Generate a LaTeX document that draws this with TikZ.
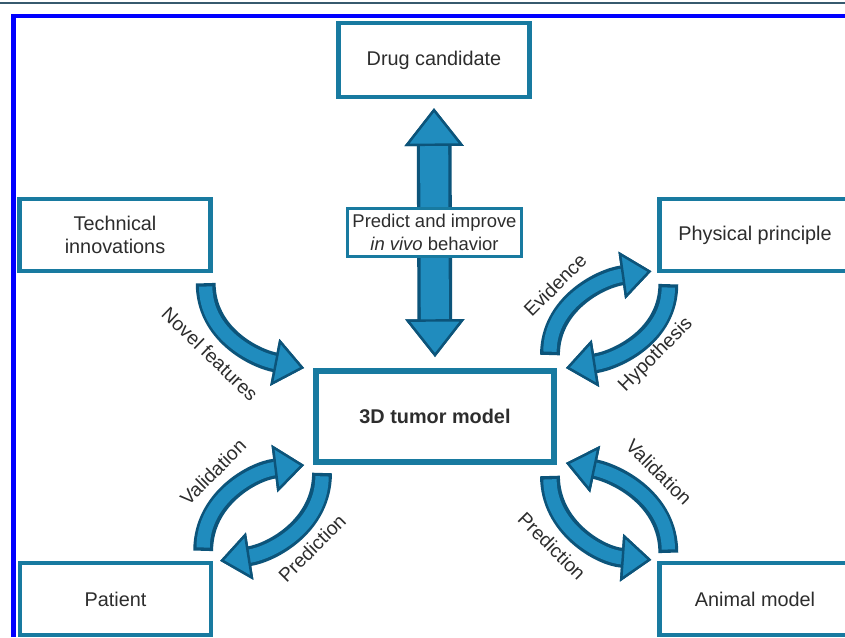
\documentclass[tikz,border=0pt]{standalone}
\usepackage{fontspec}
\setmainfont{Liberation Sans}
\usetikzlibrary{arrows.meta}
\definecolor{boxblue}{RGB}{24,122,160}
\definecolor{arrowfill}{RGB}{32,140,190}
\definecolor{arrowline}{RGB}{12,84,122}
\definecolor{textgray}{RGB}{45,45,45}
\definecolor{frameblue}{RGB}{0,0,255}
\definecolor{topgray}{RGB}{55,90,110}
\tikzset{modelbox/.style={draw=boxblue,line width=2.5pt,fill=white,inner sep=0,
        minimum width=3.82cm,minimum height=1.44cm,align=center,text=textgray,
        font=\fontsize{11.3}{13}\selectfont},
    tumorbox/.style={modelbox,line width=3.4pt,minimum width=4.76cm,minimum height=1.82cm,
        font=\fontsize{11.3}{13}\selectfont\bfseries},
    notebox/.style={draw=boxblue,line width=1.7pt,fill=white,inner sep=0,
        minimum width=3.48cm,minimum height=0.96cm,align=center,text=textgray,
        font=\fontsize{10.5}{13}\selectfont},
    flowlabel/.style={inner sep=0,text=textgray,font=\fontsize{11}{13}\selectfont},
    arcout/.style={draw=arrowline,line width=11.3pt,
        -{Triangle[length=17pt,width=27pt,line width=1.4pt]}},
    arcin/.style={draw=arrowfill,line width=7.6pt,shorten <=1.9pt,
        -{Triangle[length=17pt,width=27pt,line width=1.4pt,fill=arrowfill,color=arrowline]}},
    bothout/.style={draw=arrowline,line width=19.8pt,
        {Triangle[length=21.5pt,width=33.5pt,line width=1.4pt]}-{Triangle[length=21.5pt,width=33.5pt,line width=1.4pt]}},
    bothin/.style={draw=arrowfill,line width=16pt,
        {Triangle[length=21.5pt,width=33.5pt,line width=1.4pt,fill=arrowfill,color=arrowline]}-{Triangle[length=21.5pt,width=33.5pt,line width=1.4pt,fill=arrowfill,color=arrowline]}}}

\begin{document}
\begin{tikzpicture}[x=0.02cm,y=0.02cm]

\newcommand\flowarc[4]
{
    \draw [arcout] #1 to [out=#3,in=#4] #2;
    \draw [arcin] #1 to [out=#3,in=#4] #2;
}

\useasboundingbox [fill=white] (0,0) rectangle (845,637);

% page frame
\draw [topgray,line width=1.4pt] (0,634) -- (845,634);
\draw [frameblue,line width=2.8pt] (13.5,0) -- (13.5,621) -- (845,621);

\node (drug) [modelbox,minimum height=1.48cm] at (434,577) {Drug candidate};
\node (tech) [modelbox] at (115,402) {Technical\\innovations};
\node (phys) [modelbox] at (755,402) {Physical principle};
\node (tumor) [tumorbox] at (435,220.5) {3D tumor model};
\node (patient) [modelbox] at (115.5,38) {Patient};
\node (animal) [modelbox] at (755,38) {Animal model};

\draw [bothout] ([shift={(0,-9)}]drug.south) -- ([shift={(0,11)}]tumor.north);
\draw [bothin] ([shift={(0,-9)}]drug.south) -- ([shift={(0,11)}]tumor.north);
\node (predict) [notebox] at (434.5,404.5) {Predict and improve\\\textit{in vivo} behavior};

\flowarc{([shift={(-7,-10)}]tech.south east)}{([shift={(-9,0)}]tumor.north west)}{-90}{169}
\flowarc{([shift={(-7,13)}]tumor.north east)}{([shift={(-6,2)}]phys.south west)}{90}{188}
\flowarc{([shift={(11,-11)}]phys.south west)}{([shift={(9,0)}]tumor.north east)}{-90}{9}
\flowarc{([shift={(-10,10)}]patient.north east)}{([shift={(-9,0)}]tumor.south west)}{90}{187}
\flowarc{([shift={(9,-8)}]tumor.south west)}{([shift={(7,0)}]patient.north east)}{-90}{9}
\flowarc{([shift={(-7,-11)}]tumor.south east)}{([shift={(-6,1)}]animal.north west)}{-90}{176}
\flowarc{([shift={(11,8)}]animal.north west)}{([shift={(9,2)}]tumor.south east)}{90}{-12}

\node (novel) [flowlabel,rotate=-44] at (210,283) {Novel features};
\node (evid) [flowlabel,rotate=45] at (555,352) {Evidence};
\node (hypo) [flowlabel,rotate=45] at (656,282) {Hypothesis};
\node (valleft) [flowlabel,rotate=45] at (213,165) {Validation};
\node (predleft) [flowlabel,rotate=45] at (312,89) {Prediction};
\node (predright) [flowlabel,rotate=-45] at (552,91) {Prediction};
\node (valright) [flowlabel,rotate=-45] at (659,165) {Validation};

\end{tikzpicture}
\end{document}
